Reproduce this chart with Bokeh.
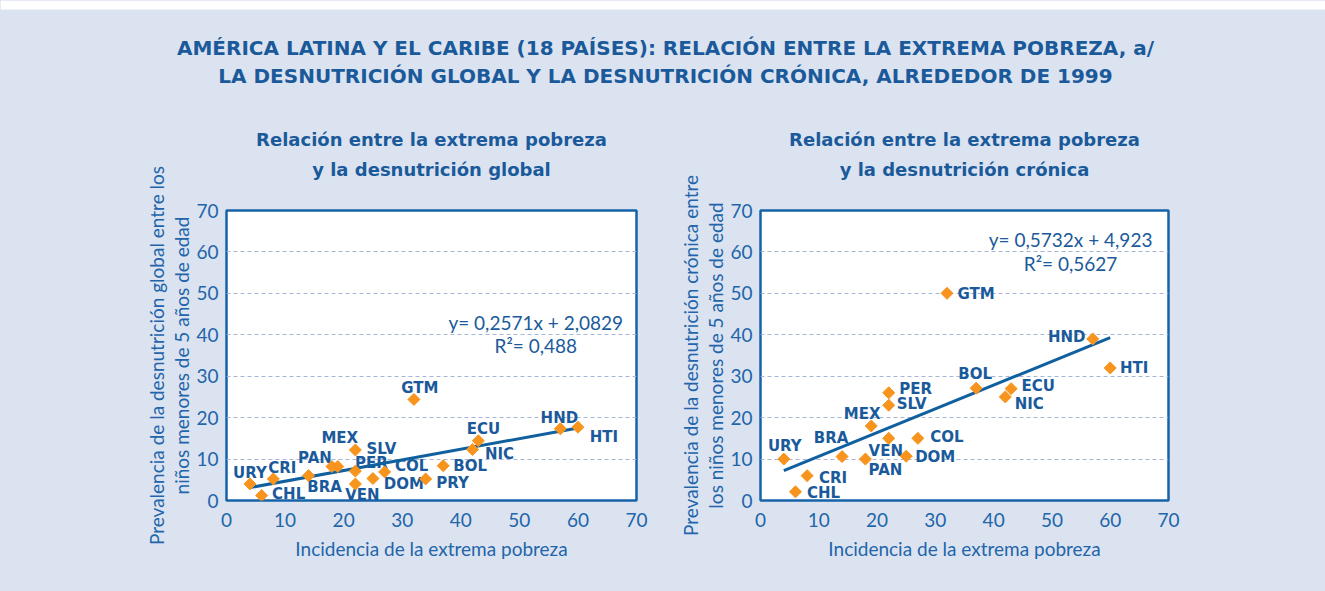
import numpy as np
from bokeh.plotting import figure
from bokeh.layouts import column, row
from bokeh.models import Range1d, FixedTicker, ColumnDataSource, LinearAxis
from bokeh.core.properties import value
from bokeh.embed import file_html
from bokeh.resources import INLINE

# ---------------- data ----------------
main_title = ["AMÉRICA LATINA Y EL CARIBE (18 PAÍSES): RELACIÓN ENTRE LA EXTREMA POBREZA, a/",
              "LA DESNUTRICIÓN GLOBAL Y LA DESNUTRICIÓN CRÓNICA, ALREDEDOR DE 1999"]
left_subtitle = ["Relación entre la extrema pobreza", "y la desnutrición global"]
right_subtitle = ["Relación entre la extrema pobreza", "y la desnutrición crónica"]
x_label = "Incidencia de la extrema pobreza"
left_ylabel = "Prevalencia de la desnutrición global entre los\nniños menores de 5 años de edad"
right_ylabel = "Prevalencia de la desnutrición crónica entre\nlos niños menores de 5 años de edad"
ticks = [0, 10, 20, 30, 40, 50, 60, 70]

left_codes = ["URY", "CRI", "CHL", "BRA", "PAN", "MEX", "SLV", "PER", "VEN", "DOM",
              "COL", "GTM", "PRY", "BOL", "NIC", "ECU", "HND", "HTI"]
left_x = [4, 8, 6, 14, 18, 19, 22, 22, 22, 25, 27, 32, 34, 37, 42, 43, 57, 60]
left_y = [4.0, 5.2, 1.2, 6.0, 8.2, 8.2, 12.2, 7.1, 4.0, 5.3, 6.9, 24.4, 5.2, 8.4,
          12.3, 14.4, 17.3, 17.7]
left_slope, left_intercept = 0.2571, 2.0829
left_eq = ["y= 0,2571x + 2,0829", "R²= 0,488"]

right_codes = ["URY", "CRI", "CHL", "BRA", "PAN", "MEX", "VEN", "PER", "SLV", "COL",
               "DOM", "GTM", "BOL", "NIC", "ECU", "HND", "HTI"]
right_x = [4, 8, 6, 14, 18, 19, 22, 22, 22, 27, 25, 32, 37, 42, 43, 57, 60]
right_y = [10, 6, 2.1, 10.6, 10, 18, 15, 26, 23, 15, 10.7, 50, 27.1, 25, 27, 39, 32]
right_slope, right_intercept = 0.5732, 4.923
right_eq = ["y= 0,5732x + 4,923", "R²= 0,5627"]

# ---------------- label placement (pixels) ----------------
left_dx = [0, 9, 27, 16, -17, 2, 26, 16, 7, 31, 27, 6, 27, 27, 27, 5, -1, 26]
left_dy = [-11, -11, -2, 11, -9, -29, -1, -8, 11, 5, -6, -11, 4, 0, 4, -12, -11, 10]
right_dx = [1, 26, 28, -11, 20, -9, -3, 27, 23, 29, 29, 29, -1, 24, 27, -26, 24]
right_dy = [-13, 2, 1, -19, 11, -12, 13, -4, -1, -1, 1, 1, -14, 7, -3, -2, 0]

# ---------------- styles ----------------
BG = "#dce3f0"
BLUE = "#1a5a9b"
TICKBLUE = "#2265aa"
FRAME = "#1763a8"
ORANGE = "#f7941d"
LINE = "#10609f"
GRID = "#a7b6d6"
FONT = "Lato"
BOLDFONT = "DejaVu Sans"

W = 1325
TOP_H = 100
CH_H = 591 - TOP_H

# title figure (page coordinates)
top = figure(width=W, height=TOP_H, x_range=Range1d(0, W), y_range=Range1d(TOP_H, 0),
             output_backend="svg", toolbar_location=None, min_border=0)
top.axis.visible = False
top.grid.visible = False
top.outline_line_color = None
top.background_fill_color = BG
top.border_fill_color = BG
top.quad(left=[0], right=[W], top=[0], bottom=[9], fill_color="white", line_color=None)
top.text(x=[665, 665], y=[47, 75], text=main_title, text_align="center",
         text_baseline="middle", text_font=value(BOLDFONT), text_font_style="bold",
         text_font_size="20px", text_color=BLUE)


def make_chart(width, bl, br, codes, xs, ys, dx, dy, slope, intercept, eq, eq_xy, ylabel, subtitle):
    p = figure(width=width, height=CH_H, x_range=Range1d(0, 70), y_range=Range1d(0, 70),
               output_backend="svg", toolbar_location=None, title=subtitle[0],
               min_border_left=bl, min_border_right=br, min_border_top=110, min_border_bottom=91)
    p.background_fill_color = "white"
    p.border_fill_color = BG
    p.outline_line_color = FRAME
    p.outline_line_width = 2.5
    p.xgrid.visible = False
    p.ygrid.ticker = FixedTicker(ticks=ticks)
    p.ygrid.grid_line_color = GRID
    p.ygrid.grid_line_dash = "4 3"
    p.ygrid.grid_line_width = 1.2

    bottom_axis = p.below[0]
    left_axis = p.left[0]
    for ax in (bottom_axis, left_axis):
        ax.ticker = FixedTicker(ticks=ticks)
        ax.axis_line_color = None
        ax.major_tick_line_color = None
        ax.minor_tick_line_color = None
        ax.major_tick_out = 0
        ax.major_tick_in = 0
        ax.major_label_text_font = FONT
        ax.major_label_text_font_size = "19px"
        ax.major_label_text_color = TICKBLUE
        ax.axis_label_text_font = FONT
        ax.axis_label_text_font_size = "19px"
        ax.axis_label_text_font_style = "normal"
        ax.axis_label_text_color = TICKBLUE
    bottom_axis.axis_label = x_label
    bottom_axis.major_label_standoff = 12
    bottom_axis.axis_label_standoff = 7
    left_axis.axis_label = ylabel
    left_axis.major_label_standoff = 8
    left_axis.axis_label_standoff = 0
    left_axis.axis_label_text_line_height = 1.1

    # first subtitle line: the figure title (outermost)
    p.title.align = "center"
    p.title.text_font = BOLDFONT
    p.title.text_font_style = "bold"
    p.title.text_font_size = "18px"
    p.title.text_color = BLUE
    p.title.standoff = 12
    # second subtitle line: label of a tick-less axis above the frame
    sub = LinearAxis(ticker=FixedTicker(ticks=[]), axis_label=subtitle[1])
    sub.axis_line_color = None
    sub.major_tick_line_color = None
    sub.minor_tick_line_color = None
    sub.major_tick_out = 0
    sub.major_tick_in = 0
    sub.minor_tick_out = 0
    sub.minor_tick_in = 0
    sub.major_label_standoff = 0
    sub.axis_label_standoff = 31
    sub.axis_label_text_font = BOLDFONT
    sub.axis_label_text_font_style = "bold"
    sub.axis_label_text_font_size = "18px"
    sub.axis_label_text_color = BLUE
    p.add_layout(sub, "above")

    src = ColumnDataSource(dict(x=xs, y=ys, code=codes, dx=dx, dy=dy))
    p.text(x="x", y="y", text="code", x_offset="dx", y_offset="dy", source=src,
           text_align="center", text_baseline="middle", text_font=value(BOLDFONT),
           text_font_style="bold", text_font_size="15px", text_color=BLUE)
    x0, x1 = min(xs), max(xs)
    p.line(x=[x0, x1], y=[slope * x0 + intercept, slope * x1 + intercept],
           line_color=LINE, line_width=3)
    p.scatter(x="x", y="y", source=src, marker="square", size=8.5, angle=np.pi / 4,
              fill_color=ORANGE, line_color=ORANGE)
    p.text(x=[eq_xy[0], eq_xy[0]], y=[eq_xy[1], eq_xy[2]], text=eq, text_align="center",
           text_baseline="middle", text_font=value(FONT), text_font_size="19px",
           text_color=BLUE)
    return p


left = make_chart(650, 226, 14, left_codes, left_x, left_y, left_dx, left_dy,
                  left_slope, left_intercept, left_eq, (52.8, 43.0, 37.4), left_ylabel,
                  left_subtitle)
right = make_chart(675, 110, 157, right_codes, right_x, right_y, right_dx, right_dy,
                   right_slope, right_intercept, right_eq, (53.2, 63.0, 57.2), right_ylabel,
                   right_subtitle)

layout = column(top, row(left, right, spacing=0, styles={"background-color": BG}),
                spacing=0, styles={"background-color": BG})
open("out.html", "w").write(file_html(layout, INLINE))
